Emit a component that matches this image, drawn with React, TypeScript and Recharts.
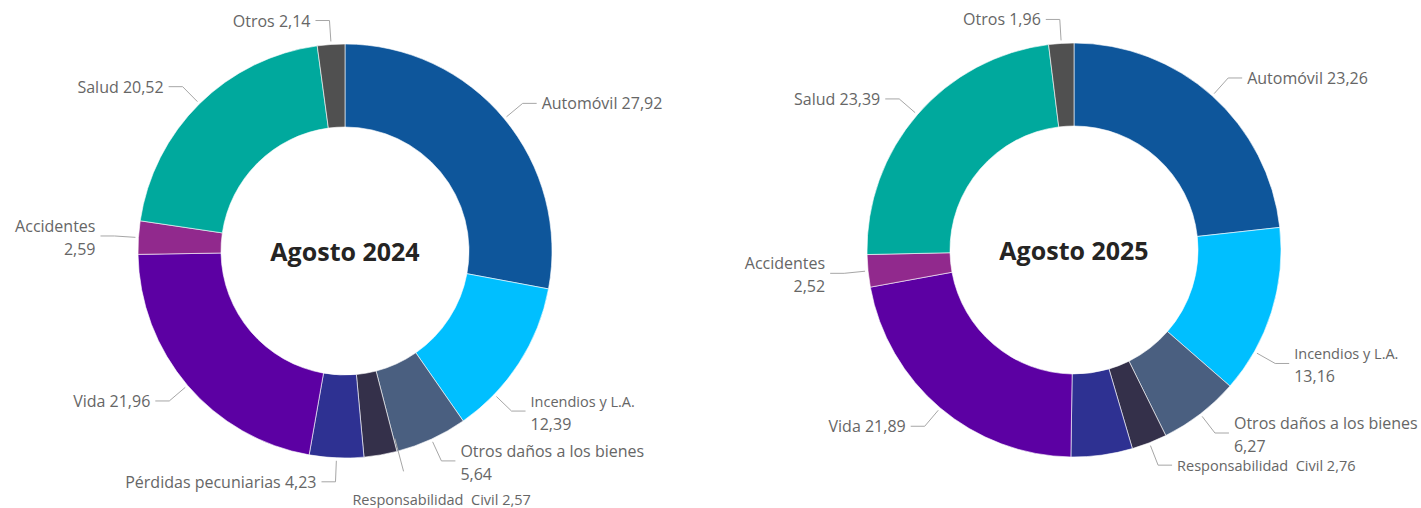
import React from 'react'
import { PieChart, Pie, Cell } from 'recharts'

const categories = [
  'Automóvil',
  'Incendios y L.A.',
  'Otros daños a los bienes',
  'Responsabilidad  Civil',
  'Pérdidas pecuniarias',
  'Vida',
  'Accidentes',
  'Salud',
  'Otros',
]

const values2024 = [27.92, 12.39, 5.64, 2.57, 4.23, 21.96, 2.59, 20.52, 2.14]
const values2025 = [23.26, 13.16, 6.27, 2.76, 4.79, 21.89, 2.52, 23.39, 1.96]

const colors = ['#0E569B', '#00BFFF', '#4A5F80', '#34304A', '#2E3192', '#5C00A3', '#91298D', '#00A99D', '#505050']

const RADIAN = Math.PI / 180
const FONT = '"Segoe UI", "Open Sans", sans-serif'
const TEXT = '#666666'
const LINE = '#a6a6a6'

type LabelCfg = { shift?: number; twoLine?: boolean; below?: boolean; hidden?: boolean; small?: boolean }

const layout2024: Record<string, LabelCfg> = {
  'Incendios y L.A.': { shift: -11, twoLine: true, small: true },
  'Otros daños a los bienes': { twoLine: true },
  'Responsabilidad  Civil': { below: true, small: true, shift: 5 },
  Accidentes: { twoLine: true },
}

const layout2025: Record<string, LabelCfg> = {
  'Incendios y L.A.': { shift: -12, twoLine: true, small: true },
  'Otros daños a los bienes': { twoLine: true },
  'Responsabilidad  Civil': { small: true },
  'Pérdidas pecuniarias': { hidden: true },
  Accidentes: { twoLine: true },
}

const fmt = (v: number) => v.toFixed(2).replace('.', ',')

const toData = (vals: number[]) => categories.map((name, i) => ({ name, value: vals[i] }))

function makeLabel(cfg: Record<string, LabelCfg>, title: string) {
  return (props: any) => {
    const { cx, cy, midAngle, outerRadius, name, value, index } = props
    const c = cfg[name] || {}
    const titleEl =
      index === 0 ? (
        <text x={cx} y={cy} textAnchor="middle" dominantBaseline="central" fill="#252423" fontSize={25} fontWeight={700} fontFamily={FONT}>
          {title}
        </text>
      ) : null
    if (c.hidden) return titleEl
    const ang = (midAngle + (c.shift || 0)) * RADIAN
    const cos = Math.cos(-ang)
    const sin = Math.sin(-ang)
    const fs = c.small ? 14.5 : 16
    if (c.below) {
      const sx = cx + (outerRadius - 13) * cos
      const sy = cy + (outerRadius - 13) * sin
      const ex = cx + (outerRadius + 21) * cos
      const ey = cy + (outerRadius + 21) * sin
      return (
        <g>
          <polyline points={`${sx},${sy} ${ex},${ey}`} fill="none" stroke={LINE} strokeWidth={1} />
          <text x={ex + 38} y={ey + 28} textAnchor="middle" dominantBaseline="central" fill={TEXT} fontSize={fs} fontFamily={FONT} style={{ whiteSpace: 'pre' }}>
            {`${name} ${fmt(value)}`}
          </text>
        </g>
      )
    }
    const sx = cx + (outerRadius + 3) * cos
    const sy = cy + (outerRadius + 3) * sin
    const mx = cx + (outerRadius + 24) * cos
    const my = cy + (outerRadius + 24) * sin
    const right = cos >= 0
    const ex = mx + (right ? 14 : -14)
    const tx = ex + (right ? 5 : -5)
    const anchor = right ? 'start' : 'end'
    return (
      <g>
        {titleEl}
        <polyline points={`${sx},${sy} ${mx},${my} ${ex},${my}`} fill="none" stroke={LINE} strokeWidth={1} />
        {c.twoLine ? (
          <text textAnchor={anchor} fill={TEXT} fontFamily={FONT} style={{ whiteSpace: 'pre' }}>
            <tspan x={tx} y={my - 10} fontSize={fs} dominantBaseline="central">{name}</tspan>
            <tspan x={tx} y={my + 13} fontSize={16} dominantBaseline="central">{fmt(value)}</tspan>
          </text>
        ) : (
          <text x={tx} y={my} textAnchor={anchor} dominantBaseline="central" fill={TEXT} fontSize={fs} fontFamily={FONT} style={{ whiteSpace: 'pre' }}>
            {`${name} ${fmt(value)}`}
          </text>
        )}
      </g>
    )
  }
}

function Donut({ vals, title, cx, cy, cfg }: { vals: number[]; title: string; cx: number; cy: number; cfg: Record<string, LabelCfg> }) {
  return (
    <Pie
      key={title}
      data={toData(vals)}
      dataKey="value"
      nameKey="name"
      cx={cx}
      cy={cy}
      innerRadius={124}
      outerRadius={207}
      startAngle={90}
      endAngle={-270}
      stroke="#ffffff"
      strokeWidth={0.6}
      label={makeLabel(cfg, title)}
      labelLine={false}
      isAnimationActive={false}
    >
      {vals.map((_, i) => (
        <Cell key={i} fill={colors[i]} />
      ))}
    </Pie>
  )
}

export default function App() {
  return (
    <div style={{ position: 'fixed', left: 0, top: 0, width: 1421, height: 508, background: '#fff' }}>
      <PieChart width={1421} height={508} margin={{ top: 0, right: 0, bottom: 0, left: 0 }}>
        {Donut({ vals: values2024, title: 'Agosto 2024', cx: 345, cy: 251, cfg: layout2024 })}
        {Donut({ vals: values2025, title: 'Agosto 2025', cx: 1074, cy: 250, cfg: layout2025 })}
      </PieChart>
    </div>
  )
}
